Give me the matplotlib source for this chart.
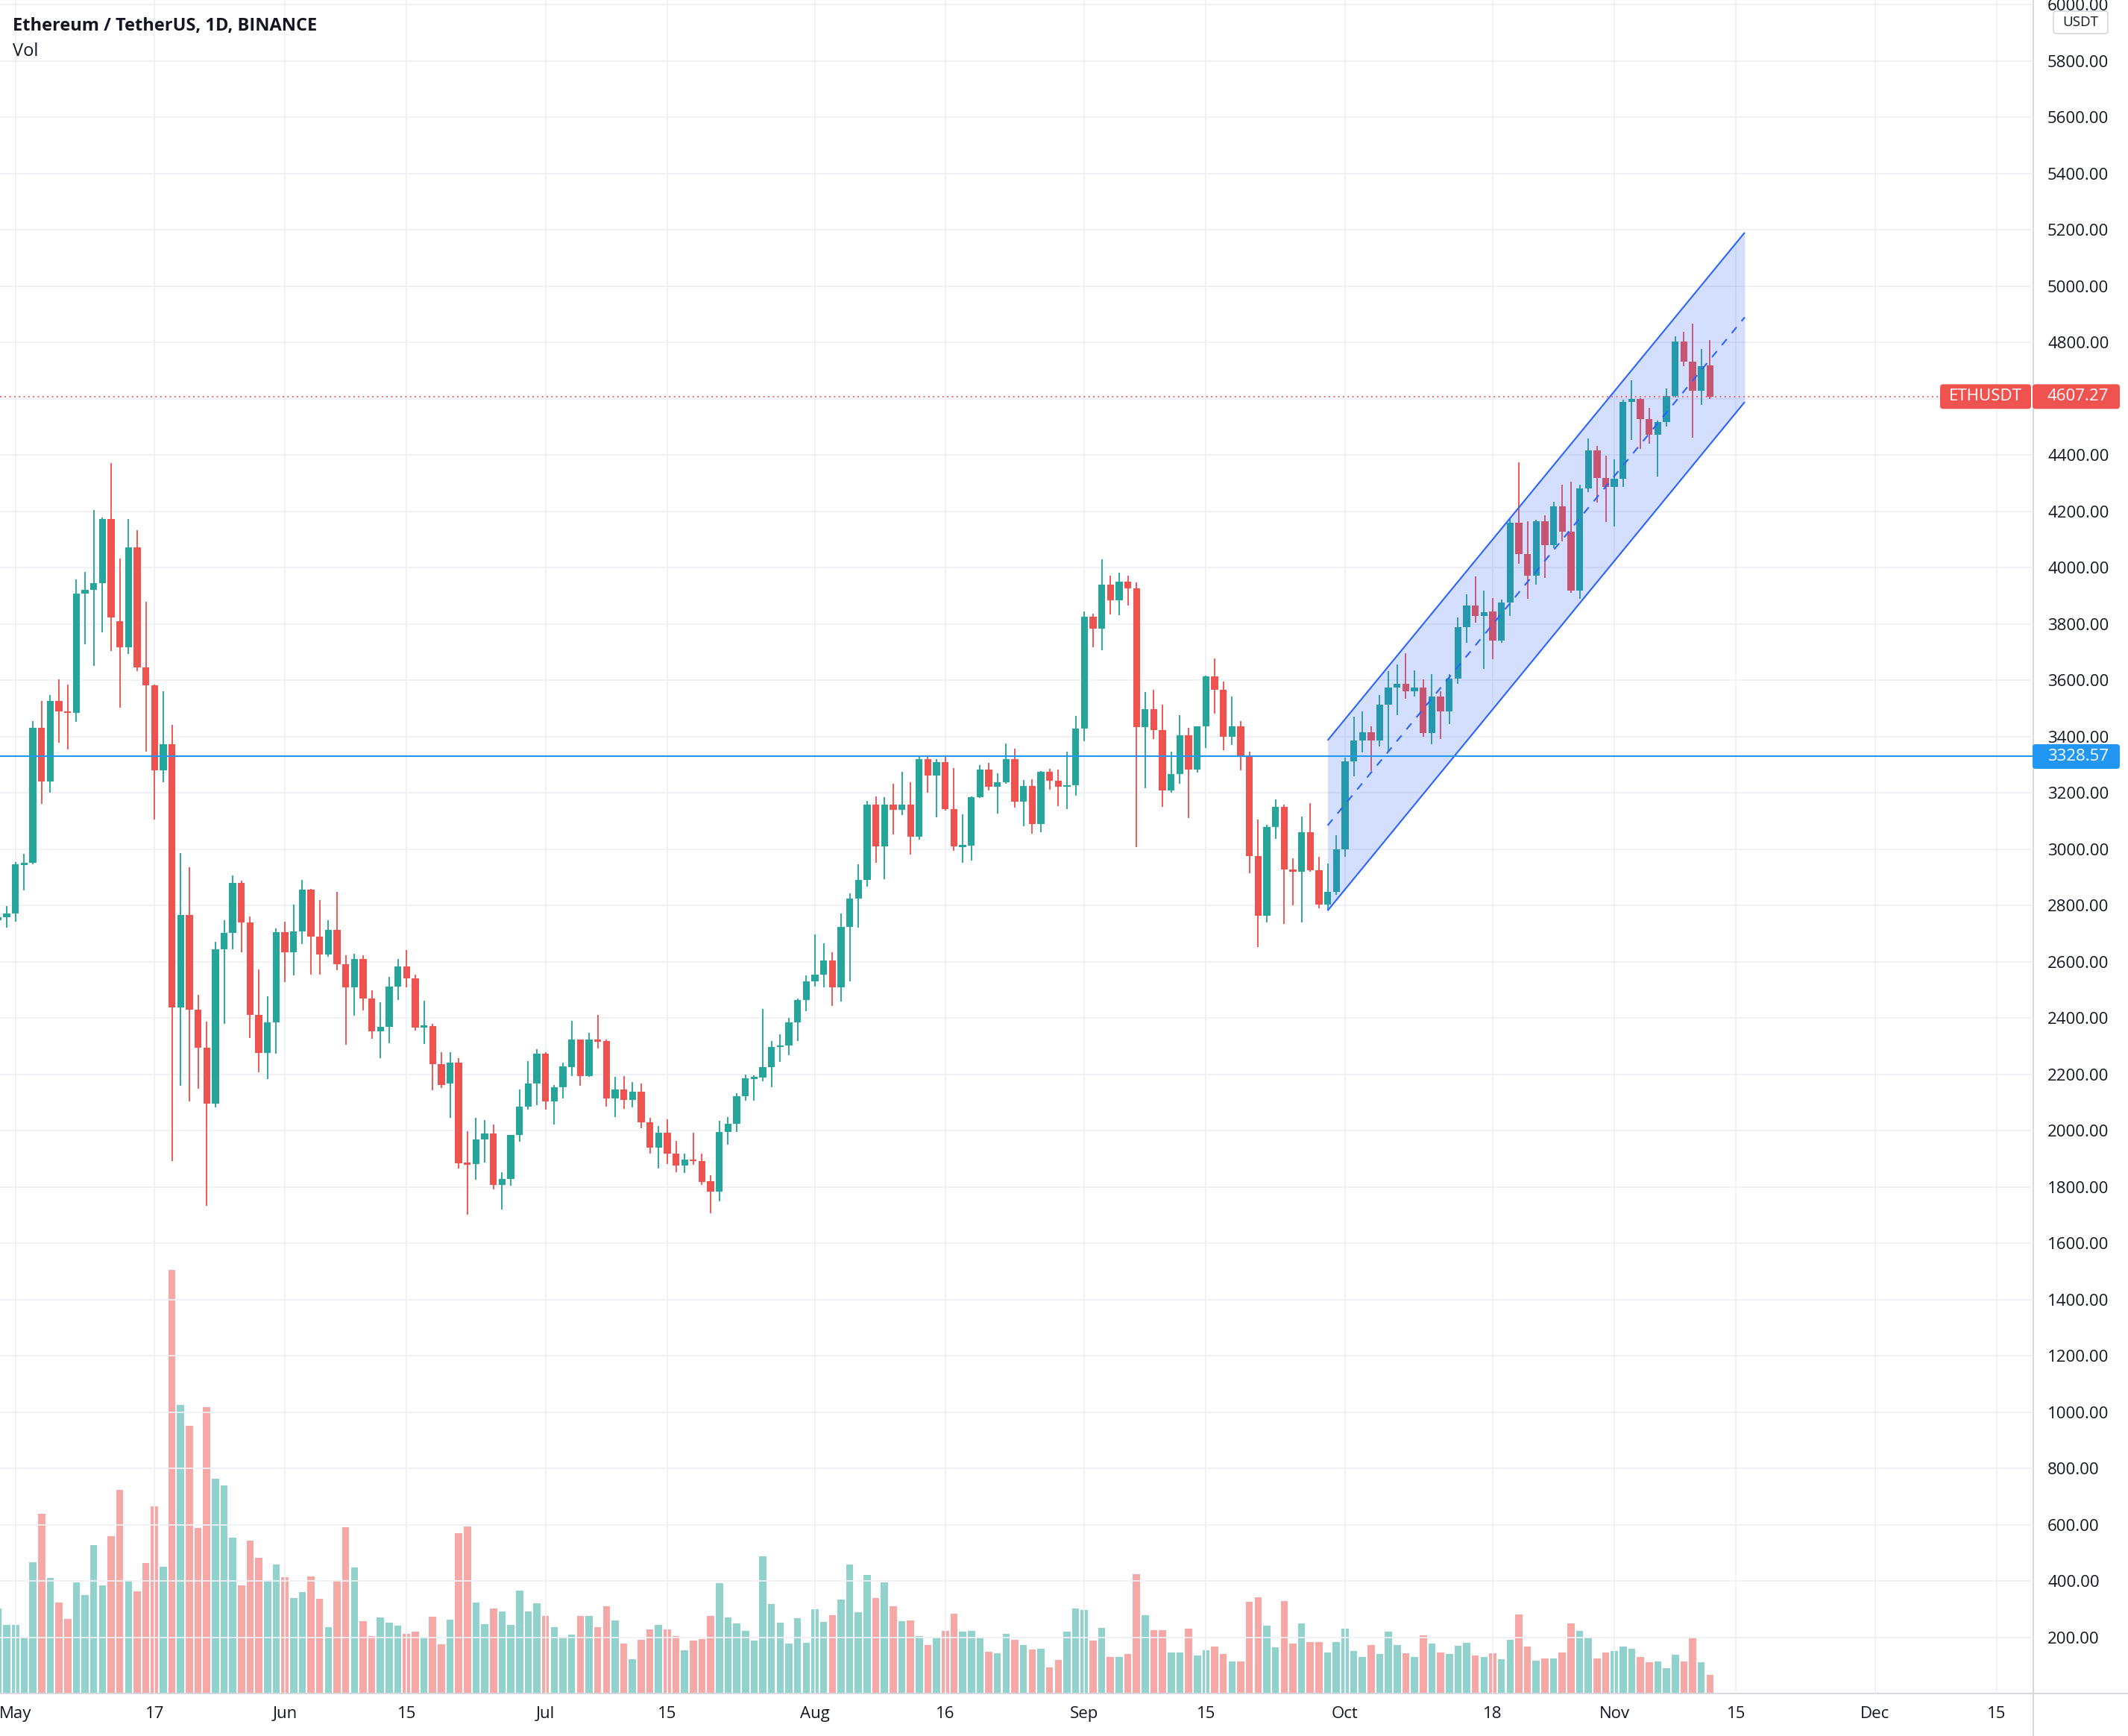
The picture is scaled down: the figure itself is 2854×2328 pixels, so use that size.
import numpy as np
import pandas as pd
import matplotlib
matplotlib.use("Agg")
import matplotlib.pyplot as plt
import matplotlib.dates as mdates
from matplotlib.patches import FancyBboxPatch
from matplotlib.lines import Line2D
from matplotlib.ticker import FormatStrFormatter
from matplotlib.transforms import blended_transform_factory

plt.rcParams['font.family'] = ['Open Sans', 'DejaVu Sans']

# ---------------- data (ETH/USDT daily) ----------------
first_day, last_day = '2021-04-29', '2021-11-12'

opens = [
    2748, 2757,  # Apr 29-30
    2772, 2945, 2950, 3431, 3240, 3527, 3490, 3483, 3907, 3921, 3944, 4173, 3810, 3716, 4072, 3645,
    3581, 3279, 3372, 2437, 2765, 2430, 2294, 2095, 2645, 2701, 2880, 2739, 2411, 2276, 2384,  # May
    2706, 2634, 2707, 2857, 2690, 2626, 2712, 2592, 2508, 2610, 2470, 2352, 2369, 2511, 2582,
    2541, 2367, 2372, 2235, 2166, 2242, 1884, 1881, 1967, 1989, 1806, 1828, 1983, 2084, 2167,  # Jun
    2274, 2104, 2153, 2226, 2322, 2194, 2322, 2318, 2114, 2147, 2108, 2139, 2029, 1938, 1992, 1919,
    1875, 1897, 1891, 1820, 1784, 1996, 2025, 2123, 2185, 2188, 2226, 2297, 2301, 2383, 2463,  # Jul
    2529, 2555, 2605, 2508, 2724, 2824, 2891, 3158, 3009, 3158, 3139, 3158, 3043, 3320, 3261, 3308,
    3143, 3009, 3012, 3183, 3283, 3221, 3238, 3320, 3168, 3225, 3090, 3273, 3242, 3221, 3227,  # Aug
    3428, 3826, 3784, 3938, 3883, 3951, 3927, 3432, 3498, 3423, 3208, 3267, 3403, 3282, 3435,
    3613, 3565, 3399, 3435, 3329, 2975, 2763, 3077, 3150, 2927, 2920, 3059, 2924, 2803, 2849,  # Sep
    3000, 3310, 3386, 3415, 3386, 3513, 3573, 3588, 3561, 3573, 3413, 3541, 3490, 3605, 3788, 3866,
    3827, 3844, 3741, 3876, 4159, 4049, 3971, 4164, 4080, 4217, 4128, 3919, 4282, 4415, 4319,  # Oct
    4285, 4316, 4589, 4600, 4528, 4472, 4516, 4610, 4804, 4730, 4627, 4718,  # Nov
]
highs = [
    2800, 2797,
    2955, 2982, 3455, 3527, 3548, 3604, 3585, 3957, 3983, 4205, 4178, 4370, 4031, 4173, 4132, 3877,
    3585, 3561, 3442, 2986, 2936, 2483, 2388, 2671, 2748, 2907, 2887, 2760, 2573, 2477, 2718,
    2743, 2803, 2891, 2859, 2818, 2746, 2847, 2622, 2628, 2623, 2497, 2455, 2546, 2610, 2641,
    2555, 2460, 2379, 2279, 2279, 2258, 1998, 2045, 2036, 2020, 1852, 1985, 2146, 2246, 2289,
    2277, 2161, 2241, 2389, 2324, 2348, 2411, 2324, 2191, 2194, 2173, 2167, 2044, 2017, 2041, 1964,
    1919, 1992, 1919, 1840, 2035, 2047, 2132, 2200, 2197, 2431, 2318, 2342, 2399, 2470, 2551,
    2697, 2665, 2632, 2771, 2842, 2947, 3170, 3187, 3185, 3233, 3273, 3238, 3329, 3326, 3320, 3333,
    3287, 3123, 3187, 3299, 3307, 3269, 3375, 3357, 3245, 3248, 3278, 3286, 3283, 3346, 3474,
    3844, 3837, 4028, 3971, 3981, 3971, 3947, 3558, 3565, 3513, 3346, 3475, 3430, 3437, 3616,
    3676, 3594, 3541, 3455, 3346, 3105, 3086, 3176, 3158, 2968, 3114, 3164, 2971, 2949, 3049,
    3324, 3470, 3488, 3437, 3547, 3632, 3656, 3695, 3634, 3604, 3622, 3560, 3622, 3823, 3905, 3969,
    3918, 3892, 3887, 4171, 4374, 4164, 4170, 4186, 4234, 4295, 4304, 4294, 4459, 4432, 4397,
    4383, 4595, 4665, 4602, 4566, 4523, 4636, 4822, 4838, 4867, 4776, 4807,
]
lows = [
    2660, 2720,
    2743, 2853, 2945, 3159, 3200, 3377, 3354, 3451, 3726, 3650, 3770, 3703, 3501, 3694, 3632, 3345,
    3106, 3238, 1892, 2160, 2104, 2148, 1732, 2083, 2379, 2645, 2632, 2329, 2207, 2182, 2272,
    2526, 2551, 2663, 2555, 2555, 2616, 2570, 2305, 2407, 2427, 2325, 2258, 2311, 2463, 2509,
    2354, 2308, 2142, 2150, 2045, 1866, 1702, 1824, 1887, 1791, 1720, 1804, 1961, 2074, 2089,
    2074, 2020, 2115, 2193, 2159, 2190, 2292, 2084, 2049, 2076, 2082, 2009, 1919, 1866, 1881, 1852,
    1848, 1879, 1807, 1706, 1749, 1949, 1996, 2106, 2106, 2174, 2153, 2244, 2268, 2318, 2423,
    2512, 2508, 2443, 2458, 2531, 2720, 2867, 2951, 2893, 3052, 3121, 2980, 3034, 3201, 3112, 3137,
    2993, 2951, 2960, 3181, 3208, 3125, 3231, 3148, 3081, 3055, 3059, 3211, 3152, 3143, 3190,
    3382, 3716, 3706, 3832, 3830, 3865, 3006, 3217, 3391, 3150, 3201, 3232, 3111, 3271, 3358,
    3482, 3351, 3369, 3280, 2914, 2651, 2739, 3035, 2734, 2801, 2739, 2920, 2790, 2784, 2838,
    2971, 3258, 3342, 3278, 3364, 3342, 3475, 3535, 3541, 3399, 3373, 3390, 3445, 3586, 3733, 3803,
    3640, 3675, 3733, 3827, 4013, 3889, 3940, 3962, 4070, 4094, 3911, 3890, 4268, 4231, 4162,
    4147, 4285, 4453, 4420, 4439, 4324, 4502, 4605, 4716, 4462, 4578, 4600,
]
closes = [
    2757, 2772,
    2945, 2950, 3431, 3240, 3527, 3490, 3483, 3907, 3921, 3944, 4173, 3822, 3716, 4072, 3645, 3581,
    3279, 3372, 2437, 2765, 2430, 2294, 2095, 2645, 2701, 2880, 2739, 2411, 2276, 2384, 2706,
    2634, 2707, 2857, 2690, 2626, 2712, 2592, 2508, 2610, 2470, 2352, 2369, 2511, 2582, 2541,
    2365, 2372, 2235, 2162, 2242, 1884, 1881, 1967, 1989, 1806, 1828, 1983, 2084, 2167, 2274,
    2104, 2153, 2228, 2323, 2194, 2322, 2318, 2114, 2147, 2108, 2139, 2029, 1938, 1992, 1919, 1875,
    1897, 1891, 1816, 1784, 1996, 2025, 2123, 2185, 2188, 2226, 2297, 2301, 2383, 2463, 2529,
    2555, 2605, 2508, 2724, 2824, 2891, 3158, 3009, 3158, 3139, 3158, 3043, 3320, 3261, 3308, 3143,
    3009, 3012, 3183, 3283, 3221, 3238, 3320, 3168, 3225, 3090, 3273, 3242, 3221, 3227, 3428,
    3826, 3784, 3938, 3883, 3951, 3927, 3432, 3498, 3423, 3208, 3267, 3403, 3282, 3435, 3613,
    3565, 3399, 3435, 3329, 2975, 2763, 3077, 3150, 2927, 2920, 3059, 2924, 2803, 2849, 3000,
    3310, 3386, 3415, 3386, 3513, 3573, 3588, 3561, 3573, 3413, 3541, 3490, 3605, 3788, 3866, 3827,
    3842, 3741, 3876, 4159, 4049, 3971, 4164, 4080, 4217, 4128, 3919, 4282, 4415, 4319, 4285,
    4316, 4589, 4600, 4528, 4472, 4516, 4610, 4804, 4730, 4627, 4716, 4607.27,
]
# volume bar heights (on the overlay scale, same units as the price grid)
volume = [
    301, 243,
    243, 200, 466, 639, 410, 323, 266, 395, 349, 527, 384, 560, 723, 403, 363, 464,
    665, 451, 1504, 1025, 952, 588, 1018, 764, 740, 554, 384, 542, 481, 403, 458,
    412, 339, 360, 415, 336, 236, 403, 591, 448, 258, 205, 270, 252, 241, 212,
    220, 198, 273, 174, 261, 570, 593, 323, 246, 301, 291, 245, 365, 291, 321,
    275, 236, 202, 210, 275, 275, 236, 310, 260, 178, 122, 191, 228, 244, 228, 204,
    154, 189, 194, 275, 392, 271, 249, 223, 189, 487, 318, 252, 178, 268, 181,
    299, 255, 278, 334, 458, 288, 421, 339, 395, 310, 257, 260, 204, 173, 199, 223,
    284, 220, 223, 196, 149, 144, 212, 191, 173, 157, 160, 93, 120, 220, 301,
    298, 187, 232, 131, 131, 141, 423, 277, 224, 224, 147, 147, 230, 136, 153,
    166, 141, 113, 113, 325, 343, 240, 163, 328, 177, 248, 183, 183, 147, 183,
    230, 150, 129, 171, 140, 219, 171, 142, 129, 206, 177, 147, 140, 170, 179, 136,
    131, 142, 121, 192, 280, 166, 116, 124, 124, 147, 248, 222, 198, 124, 147,
    150, 166, 160, 131, 110, 115, 89, 139, 113, 198, 110, 65,
]

# parallel channel anchor points
channel_dates = ['2021-09-29', '2021-11-16']
channel_lower = [2781, 4588]
channel_upper = [3386, 5190]

support_level = 3328.57
last_price = 4607.27
symbol = 'ETHUSDT'

tick_dates = ['2021-05-01', '2021-05-17', '2021-06-01', '2021-06-15', '2021-07-01', '2021-07-15',
              '2021-08-01', '2021-08-16', '2021-09-01', '2021-09-15', '2021-10-01', '2021-10-18',
              '2021-11-01', '2021-11-15', '2021-12-01', '2021-12-15']
tick_labels = ['May', '17', 'Jun', '15', 'Jul', '15', 'Aug', '16', 'Sep', '15', 'Oct', '18',
               'Nov', '15', 'Dec', '15']
price_ticks = list(range(200, 6001, 200))

title = 'Ethereum / TetherUS, 1D, BINANCE'
subtitle = 'Vol'

# ---------------- styling ----------------
GREEN = '#26a69a'
RED = '#ef5350'
BLUE_LINE = '#2196f3'
CHANNEL = '#2962ff'
TEXT = '#131722'
GRID = '#eef0f5'
BORDER = '#d6d8de'

W, H = 2854, 2328
AX_W_PX = 2727      # right edge of plotting area
AX_H_PX = 2271      # bottom edge of plotting area (from top)
FS = 16

dates = pd.date_range(first_day, last_day, freq='D')
n = len(dates)
assert len(opens) == len(highs) == len(lows) == len(closes) == len(volume) == n
x = mdates.date2num(dates)
o, h, l, c = (np.asarray(v, dtype=float) for v in (opens, highs, lows, closes))
v = np.asarray(volume, dtype=float)
up = c >= o

fig = plt.figure(figsize=(W / 100, H / 100), dpi=100, facecolor='white')
ax_rect = [0, (H - AX_H_PX) / H, AX_W_PX / W, AX_H_PX / H]
ax = fig.add_axes(ax_rect)
vax = ax.twinx()
ax.set_zorder(2)
vax.set_zorder(1)
ax.patch.set_visible(False)

x0 = mdates.date2num(pd.Timestamp('2021-05-01'))
XLIM = (x0 - 1.785, x0 + 232.21)
YLIM = (0, 6016)
ax.set_xlim(*XLIM)
ax.set_ylim(*YLIM)
vax.set_ylim(*YLIM)

# volume
vol_colors = np.where(up, GREEN, RED)
vax.bar(x, v, width=0.82, color=vol_colors, alpha=0.5, linewidth=0, zorder=1)
vax.set_yticks([])
for s in vax.spines.values():
    s.set_visible(False)

# grid
ax.set_axisbelow(True)
ax.set_xticks(mdates.date2num(pd.to_datetime(tick_dates)))
ax.set_xticklabels(tick_labels)
ax.set_yticks(price_ticks)
ax.yaxis.set_major_formatter(FormatStrFormatter('%.2f'))
ax.yaxis.tick_right()
ax.grid(True, color=GRID, linewidth=1.3)
ax.tick_params(axis='both', length=0, labelsize=FS, labelcolor=TEXT)
ax.tick_params(axis='y', pad=13.7)
ax.tick_params(axis='x', pad=12.5)
for side in ('top', 'left', 'right', 'bottom'):
    ax.spines[side].set_visible(False)

# candles
cols = np.where(up, GREEN, RED)
ax.vlines(x, l, h, colors=cols, linewidth=1.35, zorder=3)
body_lo = np.minimum(o, c)
body_h = np.abs(c - o)
min_h = 7.0
body_lo = np.where(body_h < min_h, (o + c) / 2 - min_h / 2, body_lo)
body_h = np.maximum(body_h, min_h)
ax.bar(x, body_h, bottom=body_lo, width=0.8, color=cols, linewidth=0, zorder=4)

# parallel channel
cx = mdates.date2num(pd.to_datetime(channel_dates))
lo = np.asarray(channel_lower, float)
hi = np.asarray(channel_upper, float)
mid = (lo + hi) / 2
ax.fill_between(cx, lo, hi, color=CHANNEL, alpha=0.2, linewidth=0, zorder=6)
ax.plot(cx, lo, color=CHANNEL, lw=1.5, zorder=7, solid_capstyle='butt')
ax.plot(cx, hi, color=CHANNEL, lw=1.5, zorder=7, solid_capstyle='butt')
ax.plot(cx, mid, color=CHANNEL, lw=1.5, zorder=7, linestyle=(0, (5, 5)))

# horizontal levels
ax.axhline(support_level, color=BLUE_LINE, lw=1.5, zorder=8)
red_end = 2602 / AX_W_PX
ax.plot([0, red_end], [last_price, last_price], transform=ax.get_yaxis_transform(),
        color=RED, lw=1.3, linestyle=(0, (1, 2.5)), zorder=8)

# label boxes (x in axes fraction, y in price)
bt = blended_transform_factory(ax.transAxes, ax.transData)
px_x = 1.0 / AX_W_PX                        # axes fraction per pixel
px_y = (YLIM[1] - YLIM[0]) / AX_H_PX         # price units per pixel
aspect = px_y / px_x


def label_box(x0p, x1p, y, half_h_px, face, edge=None):
    box = FancyBboxPatch((x0p * px_x, y - half_h_px * px_y), (x1p - x0p) * px_x,
                         2 * half_h_px * px_y,
                         boxstyle='round,pad=0,rounding_size=%f' % (4 * px_x),
                         mutation_aspect=aspect, transform=bt, facecolor=face,
                         edgecolor=edge if edge else face, linewidth=1.2 if edge else 0,
                         clip_on=False, zorder=20)
    ax.add_patch(box)


label_box(2726, 2843, last_price, 16.5, RED)
ax.text(2746 * px_x, last_price, '%.2f' % last_price, transform=bt, color='white',
        fontsize=FS, ha='left', va='center', zorder=21, clip_on=False)
label_box(2602, 2724, last_price, 16.5, RED)
ax.text(2663 * px_x, last_price, symbol, transform=bt, color='white',
        fontsize=FS, ha='center', va='center', zorder=21, clip_on=False)
label_box(2726, 2843, support_level, 16.5, BLUE_LINE)
ax.text(2746 * px_x, support_level, '%.2f' % support_level, transform=bt, color='white',
        fontsize=FS, ha='left', va='center', zorder=21, clip_on=False)

# currency tag at the top of the price scale
usdt_y = YLIM[1] - 30 * px_y
label_box(2754, 2827, usdt_y, 15, 'white', edge=BORDER)
ax.text(2790.5 * px_x, usdt_y, 'USDT', transform=bt, color=TEXT, fontsize=13.5,
        ha='center', va='center', zorder=21, clip_on=False)

# panel borders
fig.add_artist(Line2D([AX_W_PX / W, AX_W_PX / W], [0, 1], transform=fig.transFigure,
                      color=BORDER, lw=1.5))
fig.add_artist(Line2D([0, 1], [(H - AX_H_PX) / H, (H - AX_H_PX) / H], transform=fig.transFigure,
                      color=BORDER, lw=1.5))

# titles
fig.text(17 / W, 1 - 41 / H, title, fontsize=17, fontweight='bold', color=TEXT,
         ha='left', va='baseline')
fig.text(17 / W, 1 - 75 / H, subtitle, fontsize=17, color=TEXT, ha='left', va='baseline')

fig.savefig('out.png', dpi=100, facecolor='white')
